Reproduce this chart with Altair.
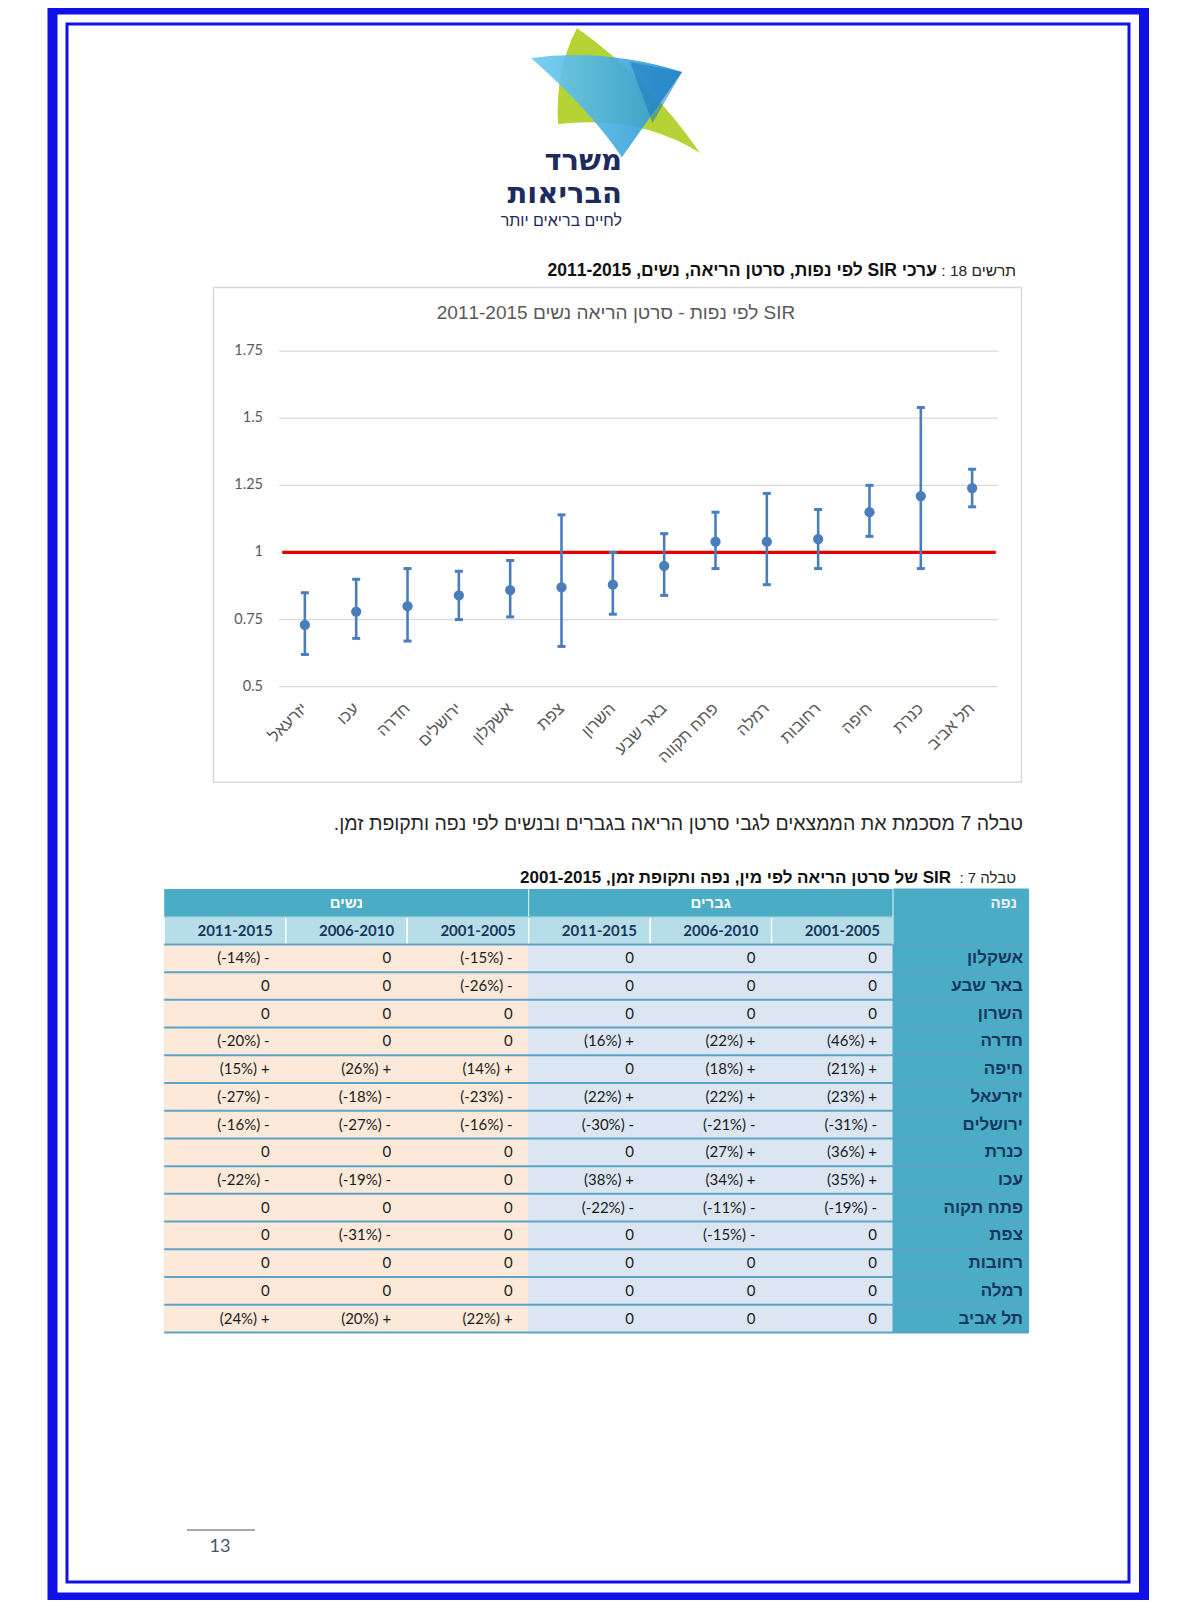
import altair as alt
import pandas as pd

# ---------------- data ----------------
districts = ["יזרעאל", "עכו", "חדרה", "ירושלים", "אשקלון", "צפת", "השרון",
             "באר שבע", "פתח תקווה", "רמלה", "רחובות", "חיפה", "כנרת", "תל אביב"]
sir = [0.73, 0.78, 0.80, 0.84, 0.86, 0.87, 0.88, 0.95, 1.04, 1.04, 1.05, 1.15, 1.21, 1.24]
ci_low = [0.62, 0.68, 0.67, 0.75, 0.76, 0.65, 0.77, 0.84, 0.94, 0.88, 0.94, 1.06, 0.94, 1.17]
ci_high = [0.85, 0.90, 0.94, 0.93, 0.97, 1.14, 1.00, 1.07, 1.15, 1.22, 1.16, 1.25, 1.54, 1.31]
y_ticks = [0.5, 0.75, 1.0, 1.25, 1.5, 1.75]
y_tick_labels = ["0.5", "0.75", "1", "1.25", "1.5", "1.75"]
reference_line = [1.0]

table_districts = ["אשקלון", "באר שבע", "השרון", "חדרה", "חיפה", "יזרעאל", "ירושלים",
                   "כנרת", "עכו", "פתח תקוה", "צפת", "רחובות", "רמלה", "תל אביב"]
men_2001_2005 = [0, 0, 0, 46, 21, 23, -31, 36, 35, -19, 0, 0, 0, 0]
men_2006_2010 = [0, 0, 0, 22, 18, 22, -21, 27, 34, -11, -15, 0, 0, 0]
men_2011_2015 = [0, 0, 0, 16, 0, 22, -30, 0, 38, -22, 0, 0, 0, 0]
women_2001_2005 = [-15, -26, 0, 0, 14, -23, -16, 0, 0, 0, 0, 0, 0, 22]
women_2006_2010 = [0, 0, 0, 0, 26, -18, -27, 0, -19, 0, -31, 0, 0, 20]
women_2011_2015 = [-14, 0, 0, -20, 15, -27, -16, 0, -22, 0, 0, 0, 0, 24]
periods = ["2011-2015", "2006-2010", "2001-2005"]
group_names = ["נשים", "גברים"]

# ---------------- helpers ----------------
FONT = "Liberation Sans"
NUMF = "Lato"
LOGOF = "DejaVu Sans"
W, H = 1184, 1592
one = pd.DataFrame({"k": [0]})


def rtl(s):
    return "\u202b" + s + "\u202c"


def deco_text(text, x, y, size, color="#222222", weight="normal", align="right", font=FONT):
    return alt.Chart(one).mark_text(
        text=text, align=align, baseline="middle", fontSize=size,
        fontWeight=weight, color=color, font=font
    ).encode(x=alt.value(x), y=alt.value(y))


def fmt(v):
    if v == 0:
        return "0"
    return f"({v}%) +" if v > 0 else f"({v}%) -"


# ---------------- page decorations ----------------
border_outer = alt.Chart(one).mark_rect(
    fillOpacity=0, stroke="#1010e8", strokeWidth=10
).encode(x=alt.value(44.5), x2=alt.value(1136), y=alt.value(1.5), y2=alt.value(1589.5))
border_inner = alt.Chart(one).mark_rect(
    fillOpacity=0, stroke="#1010e8", strokeWidth=3
).encode(x=alt.value(59), x2=alt.value(1121), y=alt.value(16), y2=alt.value(1574))

LIME = "M -0.389 -0.856 Q -0.633 -0.389 -0.6 0.211 Q 0.311 0.111 0.978 0.533 Q 0.422 -0.278 -0.389 -0.856 Z"
BLUE = "M -0.9 -0.522 Q -0.078 -0.633 0.778 -0.367 L 0.11 0.58 Q -0.244 0.056 -0.9 -0.522 Z"
DARK = "M 0.2 -0.478 L 0.778 -0.367 L 0.45 0.2 Z"
blue_grad = alt.LinearGradient(
    gradient="linear",
    stops=[alt.GradientStop(color="#6fcdef", offset=0), alt.GradientStop(color="#2a94d2", offset=1)],
    x1=0, x2=1, y1=0, y2=0,
)
logo = [
    alt.Chart(one).mark_point(shape=LIME, filled=True, color="#b5d335", opacity=1, strokeWidth=0, size=32400)
    .encode(x=alt.value(604), y=alt.value(97)),
    alt.Chart(one).mark_point(shape=BLUE, filled=True, color=blue_grad, opacity=0.92, strokeWidth=0, size=32400)
    .encode(x=alt.value(604), y=alt.value(97)),
    alt.Chart(one).mark_point(shape=DARK, filled=True, color="#1a78bf", opacity=0.55, strokeWidth=0, size=32400)
    .encode(x=alt.value(604), y=alt.value(97)),
]
logo_text = [
    deco_text(rtl("משרד"), 614, 153, 29, color="#1d2a5c", weight="bold", font=LOGOF),
    deco_text(rtl("הבריאות"), 614, 186, 29, color="#1d2a5c", weight="bold", font=LOGOF),
    deco_text(rtl("לחיים בריאים יותר"), 614, 213, 16, color="#1d2a5c"),
]

captions = [
    deco_text(rtl("תרשים 18 :"), 1008, 263, 15.5, color="#222222"),
    deco_text(rtl("ערכי SIR לפי נפות, סרטן הריאה, נשים, 2011-2015"), 929, 263, 17.5, color="#111111", weight="bold"),
    deco_text(rtl("טבלה 7 מסכמת את הממצאים לגבי סרטן הריאה בגברים ובנשים לפי נפה ותקופת זמן."), 1015, 816, 19.5, color="#262626"),
    deco_text(rtl("טבלה 7 :"), 1008, 870, 15, color="#222222"),
    deco_text(rtl("SIR של סרטן הריאה לפי מין, נפה ותקופת זמן, 2001-2015"), 943, 870, 17, color="#111111", weight="bold"),
    deco_text("13", 212, 1539, 18, color="#44546a", align="center", font=NUMF),
]
page_line = alt.Chart(one).mark_rule(color="#8c8c8c", strokeWidth=1.5).encode(
    x=alt.value(179), x2=alt.value(247), y=alt.value(1522))

# ---------------- error-bar chart ----------------
chart_box = alt.Chart(one).mark_rect(fill="white", stroke="#d9d9d9", strokeWidth=1.5).encode(
    x=alt.value(205.5), x2=alt.value(1013.4), y=alt.value(279.4), y2=alt.value(774.2))
chart_title = deco_text(rtl("SIR לפי נפות - סרטן הריאה נשים 2011-2015"), 608, 305, 19,
                        color="#595959", align="center")

xscale = alt.Scale(type="point", domain=districts, range=[271.2, 989.8], padding=0.5)
yscale = alt.Scale(domain=[0.5, 1.75], range=[678.7, 343.1], zero=False, nice=False)
err = pd.DataFrame({"district": districts, "sir": sir, "low": ci_low, "high": ci_high})
grid = pd.DataFrame({"v": y_ticks, "label": y_tick_labels})
ref = pd.DataFrame({"v": reference_line})
BC = "#4a7ebb"
X = alt.X("district:N", scale=xscale, axis=None)

grid_rules = alt.Chart(grid).mark_rule(color="#d9d9d9", strokeWidth=1.2).encode(
    y=alt.Y("v:Q", scale=yscale, axis=None), x=alt.value(271.2), x2=alt.value(989.8))
grid_labels = alt.Chart(grid).mark_text(
    align="right", baseline="middle", fontSize=14.5, color="#595959", font=NUMF
).encode(y=alt.Y("v:Q", scale=yscale, axis=None), x=alt.value(255), text="label:N")
ref_rule = alt.Chart(ref).mark_rule(color="#e00000", strokeWidth=3.2).encode(
    y=alt.Y("v:Q", scale=yscale, axis=None), x=alt.value(274.3), x2=alt.value(987.7))
bars = alt.Chart(err).mark_rule(color=BC, strokeWidth=2.6).encode(
    x=X, y=alt.Y("low:Q", scale=yscale, axis=None), y2="high:Q")
cap_lo = alt.Chart(err).mark_tick(color=BC, thickness=3, size=8, orient="horizontal", opacity=1).encode(
    x=X, y=alt.Y("low:Q", scale=yscale, axis=None))
cap_hi = alt.Chart(err).mark_tick(color=BC, thickness=3, size=8, orient="horizontal", opacity=1).encode(
    x=X, y=alt.Y("high:Q", scale=yscale, axis=None))
pts = alt.Chart(err).mark_point(filled=True, shape="circle", size=105, color=BC, opacity=1).encode(
    x=X, y=alt.Y("sir:Q", scale=yscale, axis=None))
xlabels = alt.Chart(err).mark_text(
    angle=315, align="right", baseline="middle", fontSize=16.5, color="#595959", font=FONT
).encode(x=X, y=alt.value(698), text="district:N")

err_layer = alt.layer(grid_rules, grid_labels, ref_rule, bars, cap_lo, cap_hi, pts, xlabels)

# ---------------- table ----------------
col_ids = ["w3", "w2", "w1", "m3", "m2", "m1"]
col_series = [women_2011_2015, women_2006_2010, women_2001_2005,
              men_2011_2015, men_2006_2010, men_2001_2005]
col_kind = ["w", "w", "w", "m", "m", "m"]
row_domain = ["h1", "h2"] + table_districts

cells = []
for cid, series, kind, per in zip(col_ids, col_series, col_kind, periods + periods):
    cells.append({"row": "h2", "col": cid, "text": per, "kind": "h2"})
    for d, v in zip(table_districts, series):
        cells.append({"row": d, "col": cid, "text": fmt(v), "kind": kind})
cells = pd.DataFrame(cells)
data_cells = cells[cells["kind"].isin(["m", "w"])]
h2_cells = cells[cells["kind"] == "h2"]
groups = pd.DataFrame({"row": ["h1", "h1"], "col": ["w2", "m2"], "text": group_names})
names = pd.DataFrame({"row": row_domain})
name_labels = pd.DataFrame({"row": table_districts})

xcol = alt.Scale(type="band", domain=col_ids, range=[156.2, 885], paddingInner=0, paddingOuter=0)
yrow = alt.Scale(type="band", domain=row_domain, range=[881, 1324.4], paddingInner=0, paddingOuter=0)
XC = alt.X("col:N", scale=xcol, axis=None)
YR = alt.Y("row:N", scale=yrow, axis=None)
kind_scale = alt.Scale(domain=["h2", "m", "w"], range=["#b7dde8", "#dce6f2", "#fde9d9"])

h1_rect = alt.Chart(pd.DataFrame({"row": ["h1"]})).mark_rect(color="#4bacc6", strokeWidth=0).encode(
    x=alt.value(156.2), x2=alt.value(1020.6), y=YR)
rects = alt.Chart(cells).mark_rect(strokeWidth=1).encode(
    x=XC, y=YR,
    color=alt.Color("kind:N", scale=kind_scale, legend=None),
    stroke=alt.Stroke("kind:N", scale=kind_scale, legend=None))
h2_rects = alt.Chart(h2_cells).mark_rect(fillOpacity=0, stroke="#ffffff", strokeWidth=1.2).encode(x=XC, y=YR)
name_rects = alt.Chart(names).mark_rect(color="#4bacc6", stroke="#4bacc6", strokeWidth=1).encode(
    x=alt.value(885), x2=alt.value(1020.6), y=YR)
sep_rows = alt.Chart(name_labels).mark_rule(color="#5aa3c6", strokeWidth=2).encode(
    y=alt.Y("row:N", scale=yrow, axis=None, bandPosition=0), x=alt.value(156.2), x2=alt.value(1020.6))
sep_h2 = alt.Chart(pd.DataFrame({"row": ["h2"]})).mark_rule(color="#7fc3d6", strokeWidth=1.5).encode(
    y=alt.Y("row:N", scale=yrow, axis=None, bandPosition=0), x=alt.value(156.2), x2=alt.value(885))
sep_bottom = alt.Chart(pd.DataFrame({"row": [table_districts[-1]]})).mark_rule(color="#5aa3c6", strokeWidth=2).encode(
    y=alt.Y("row:N", scale=yrow, axis=None, bandPosition=1), x=alt.value(156.2), x2=alt.value(1020.6))
vsep_group = alt.Chart(pd.DataFrame({"row": ["h1"], "col": ["m3"]})).mark_tick(
    orient="vertical", size=27, thickness=1.2, color="#cfe9f1", opacity=1).encode(
    x=alt.X("col:N", scale=xcol, axis=None, bandPosition=0), y=YR)
vsep_name = alt.Chart(pd.DataFrame({"row": ["h1", "h2"]})).mark_tick(
    orient="vertical", size=28, thickness=1.2, color="#cfe9f1", opacity=1).encode(
    x=alt.value(885), y=YR)
val_text = alt.Chart(data_cells).mark_text(
    align="right", baseline="middle", dx=-16, fontSize=15, color="#1a1a1a", font=NUMF
).encode(x=alt.X("col:N", scale=xcol, axis=None, bandPosition=1), y=YR, text="text:N")
h2_text = alt.Chart(h2_cells).mark_text(
    align="right", baseline="middle", dx=-13, fontSize=15, fontWeight="bold", color="#17375e", font=NUMF
).encode(x=alt.X("col:N", scale=xcol, axis=None, bandPosition=1), y=YR, text="text:N")
grp_text = alt.Chart(groups).mark_text(
    align="center", baseline="middle", fontSize=15, fontWeight="bold", color="#ffffff", font=FONT
).encode(x=XC, y=YR, text="text:N")
name_text = alt.Chart(name_labels).mark_text(
    align="right", baseline="middle", fontSize=17, fontWeight="bold", color="#17375e", font=FONT
).encode(x=alt.value(1015), y=YR, text="row:N")
head_name = alt.Chart(pd.DataFrame({"row": ["h1"], "t": ["נפה"]})).mark_text(
    align="right", baseline="middle", fontSize=15, fontWeight="bold", color="#eef4ff", font=FONT
).encode(x=alt.value(1009), y=YR, text="t:N")

table_layer = alt.layer(h1_rect, rects, h2_rects, name_rects, sep_rows, sep_h2, sep_bottom,
                        vsep_group, vsep_name, val_text, h2_text, grp_text, name_text, head_name)

# ---------------- compose ----------------
chart = alt.layer(
    border_outer, border_inner, *logo, *logo_text, *captions, page_line,
    chart_box, chart_title, err_layer, table_layer
).resolve_scale(
    x="independent", y="independent", color="independent", stroke="independent"
).properties(
    width=W, height=H, padding=0, autosize=alt.AutoSizeParams(type="none"),
    background="white"
).configure_view(strokeWidth=0)

chart.save("out.html", embed_options={"renderer": "svg", "actions": False})
